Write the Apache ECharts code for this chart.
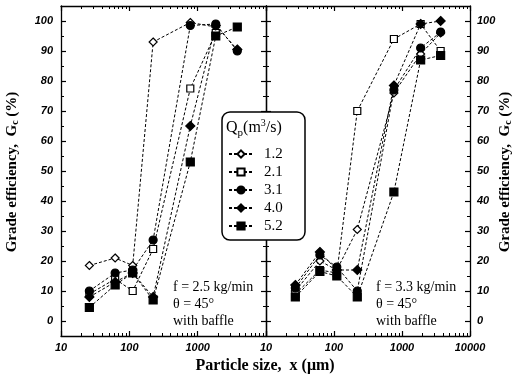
<!DOCTYPE html>
<html>
<head>
<meta charset="utf-8">
<script src="https://cdn.jsdelivr.net/npm/echarts@6/dist/echarts.min.js"></script>
<style>html,body{margin:0;padding:0;background:#fff;}#c{width:517px;height:382px;}</style>
</head>
<body>
<div id="c"></div>
<script>
// ---- data ----
const seriesNames = ['1.2', '2.1', '3.1', '4.0', '5.2'];
// left panel (f = 2.5 kg/min)
const leftX = [26, 62, 112, 223, 780, 1840, 3800];
const left_1_2 = [18.5, 21, 18.5, 93, 99.5, 98];
const left_2_1 = [9, 14, 10, 24, 77.5, 96];
const left_3_1 = [10, 16, 17, 27, 98.5, 99, 90];
const left_4_0 = [8, 13, 16, 8, 65, 98.5, 90.5];
const left_5_2 = [4.5, 12, 16, 7, 53, 95, 98];
// right panel (f = 3.3 kg/min)
const rightX = [27, 62, 110, 220, 760, 1880, 3700];
const right_1_2 = [10, 20, 17, 30.5, 76, 89, 96];
const right_2_1 = [9, 17, 16, 70, 94, 99, 90];
const right_3_1 = [11, 22, 18, 10, 77, 91, 96.3];
const right_4_0 = [12, 23, 17, 17, 78.5, 99, 100];
const right_5_2 = [8, 16.5, 15, 8, 43, 87, 88.5];
// ticks
const xLabelsLeft = [10, 100, 1000];
const xLabelsRight = [10, 100, 1000, 10000];
const xMajor = [10, 100, 1000, 10000];
const xMinor = [20,30,40,50,60,70,80,90,200,300,400,500,600,700,800,900,2000,3000,4000,5000,6000,7000,8000,9000];
const yLabels = [0, 10, 20, 30, 40, 50, 60, 70, 80, 90, 100];
const yMinor = [5, 15, 25, 35, 45, 55, 65, 75, 85, 95];

const leftSets = [left_1_2, left_2_1, left_3_1, left_4_0, left_5_2];
const rightSets = [right_1_2, right_2_1, right_3_1, right_4_0, right_5_2];

const symbols = [
  {symbol: 'diamond', size: 8, fill: '#fff'},
  {symbol: 'rect', size: 7, fill: '#fff'},
  {symbol: 'circle', size: 8, fill: '#000'},
  {symbol: 'diamond', size: 9, fill: '#000'},
  {symbol: 'rect', size: 8, fill: '#000'}
];

const SANS = '"Liberation Sans", Arial, sans-serif';
const SERIF = '"Liberation Serif", "Times New Roman", serif';

function pairs(xs, ys) { return ys.map((v, i) => [xs[i], v]); }

const chart = echarts.init(document.getElementById('c'), null, {renderer: 'canvas'});

const lineW = 1.3;
const axisLine = {show: true, onZero: false, lineStyle: {color: '#000', width: lineW}};
const noLine = {show: false, onZero: false};
const labelStyle = {color: '#000', fontFamily: SANS, fontWeight: 'bold', fontStyle: 'italic', fontSize: 11,
  formatter: v => String(Math.round(v))};

function xAxis(gridIndex, position, opts) {
  return Object.assign({
    type: 'log', logBase: 10, min: 10, max: 10000, gridIndex, position,
    axisLine: axisLine, splitLine: {show: false},
    axisTick: {show: false}, axisLabel: {show: false}
  }, opts);
}
function yAxis(gridIndex, position, opts) {
  return Object.assign({
    type: 'value', min: -5, max: 105, gridIndex, position,
    axisLine: axisLine, splitLine: {show: false},
    axisTick: {show: false}, axisLabel: {show: false}
  }, opts);
}
const majTickX = {show: true, inside: true, length: 5, customValues: xMajor, lineStyle: {color: '#000', width: 1.2}};
const minTickX = {show: true, inside: true, length: 3, customValues: xMinor, lineStyle: {color: '#000', width: 1}};
const majTickY = {show: true, inside: true, length: 5, customValues: yLabels, lineStyle: {color: '#000', width: 1.2}};
const minTickY = {show: true, inside: true, length: 3, customValues: yMinor, lineStyle: {color: '#000', width: 1}};

const grids = [
  {left: 61, top: 6, width: 205, height: 330},
  {left: 266, top: 6, width: 204, height: 330},
  {left: 61, top: 6, width: 205, height: 330},
  {left: 266, top: 6, width: 204, height: 330}
];

const xAxes = [
  xAxis(0, 'bottom', {axisTick: majTickX, axisLabel: Object.assign({show: true, margin: 6, customValues: xLabelsLeft}, labelStyle)}),
  xAxis(0, 'top', {axisTick: majTickX}),
  xAxis(1, 'bottom', {axisTick: majTickX, axisLabel: Object.assign({show: true, margin: 6, customValues: xLabelsRight}, labelStyle)}),
  xAxis(1, 'top', {axisTick: majTickX}),
  xAxis(2, 'bottom', {axisLine: noLine, axisTick: minTickX}),
  xAxis(2, 'top', {axisLine: noLine, axisTick: minTickX}),
  xAxis(3, 'bottom', {axisLine: noLine, axisTick: minTickX}),
  xAxis(3, 'top', {axisLine: noLine, axisTick: minTickX})
];
const yAxes = [
  yAxis(0, 'left', {axisTick: majTickY, axisLabel: Object.assign({show: true, margin: 8, customValues: yLabels}, labelStyle)}),
  yAxis(0, 'right', {axisTick: majTickY}),
  yAxis(1, 'left', {axisTick: majTickY}),
  yAxis(1, 'right', {axisTick: majTickY, axisLabel: Object.assign({show: true, margin: 7, customValues: yLabels}, labelStyle)}),
  yAxis(2, 'left', {axisLine: noLine, axisTick: minTickY}),
  yAxis(2, 'right', {axisLine: noLine, axisTick: minTickY}),
  yAxis(3, 'left', {axisLine: noLine, axisTick: minTickY}),
  yAxis(3, 'right', {axisLine: noLine, axisTick: minTickY})
];

const series = [];
function addSeries(sets, xs, xIdx, yIdx) {
  sets.forEach((ys, i) => {
    const s = symbols[i];
    series.push({
      name: seriesNames[i], type: 'line', xAxisIndex: xIdx, yAxisIndex: yIdx,
      data: pairs(xs, ys), symbol: s.symbol, symbolSize: s.size, showAllSymbol: true,
      itemStyle: {color: s.fill, borderColor: '#000', borderWidth: 1.2, opacity: 1},
      lineStyle: {color: '#000', width: 1, type: [3, 2]},
      emphasis: {disabled: true}, z: 3 + (s.fill === '#000' ? 1 : 0)
    });
  });
}
addSeries(leftSets, leftX, 0, 0);
addSeries(rightSets, rightX, 2, 3);

chart.setOption({
  animation: false,
  backgroundColor: '#fff',
  grid: grids,
  xAxis: xAxes,
  yAxis: yAxes,
  legend: {
    data: seriesNames, orient: 'vertical', left: 228, top: 146,
    itemGap: 2, itemWidth: 24, itemHeight: 9, padding: 0, z: 10,
    selectedMode: false,
    textStyle: {fontFamily: SERIF, fontSize: 15, lineHeight: 16, color: '#000', padding: [0, 0, 0, 6]}
  },
  graphic: [
    {type: 'rect', z: 8, shape: {x: 222, y: 112, width: 83, height: 128, r: 8},
     style: {fill: '#fff', stroke: '#000', lineWidth: 1.5}},
    {type: 'text', z: 11, x: 226, y: 118,
     style: {text: '{n|Q}{s|p}{n|(m}{u|3}{n|/s)}', rich: {
       n: {fontFamily: SERIF, fontSize: 16, fill: '#000', verticalAlign: 'bottom'},
       s: {fontFamily: SERIF, fontSize: 11, fill: '#000', padding: [0, 0, -3, 0], verticalAlign: 'bottom'},
       u: {fontFamily: SERIF, fontSize: 10, fill: '#000', padding: [0, 0, 8, 0], verticalAlign: 'bottom'}
     }}},
    {type: 'text', z: 11, x: 173, y: 279,
     style: {text: 'f = 2.5 kg/min\nθ = 45°\nwith baffle', fontFamily: SERIF, fontSize: 14, lineHeight: 17, fill: '#000'}},
    {type: 'text', z: 11, x: 376, y: 279,
     style: {text: 'f = 3.3 kg/min\nθ = 45°\nwith baffle', fontFamily: SERIF, fontSize: 14, lineHeight: 17, fill: '#000'}},
    {type: 'text', z: 11, x: 12, y: 172, rotation: Math.PI / 2,
     style: {text: '{n|Grade efficiency,  G}{s|c}{n| (%)}', align: 'center', verticalAlign: 'middle', rich: {
       n: {fontFamily: SERIF, fontWeight: 'bold', fontSize: 15, fill: '#000'},
       s: {fontFamily: SERIF, fontWeight: 'bold', fontSize: 10, fill: '#000', padding: [6, 0, 0, 0]}
     }}},
    {type: 'text', z: 11, x: 505, y: 172, rotation: Math.PI / 2,
     style: {text: '{n|Grade efficiency,  G}{s|c}{n| (%)}', align: 'center', verticalAlign: 'middle', rich: {
       n: {fontFamily: SERIF, fontWeight: 'bold', fontSize: 15, fill: '#000'},
       s: {fontFamily: SERIF, fontWeight: 'bold', fontSize: 10, fill: '#000', padding: [6, 0, 0, 0]}
     }}},
    {type: 'text', z: 11, x: 265, y: 366,
     style: {text: 'Particle size,  x (μm)', align: 'center', verticalAlign: 'middle',
       fontFamily: SERIF, fontWeight: 'bold', fontSize: 16, fill: '#000'}}
  ],
  series: series
});
</script>
</body>
</html>
